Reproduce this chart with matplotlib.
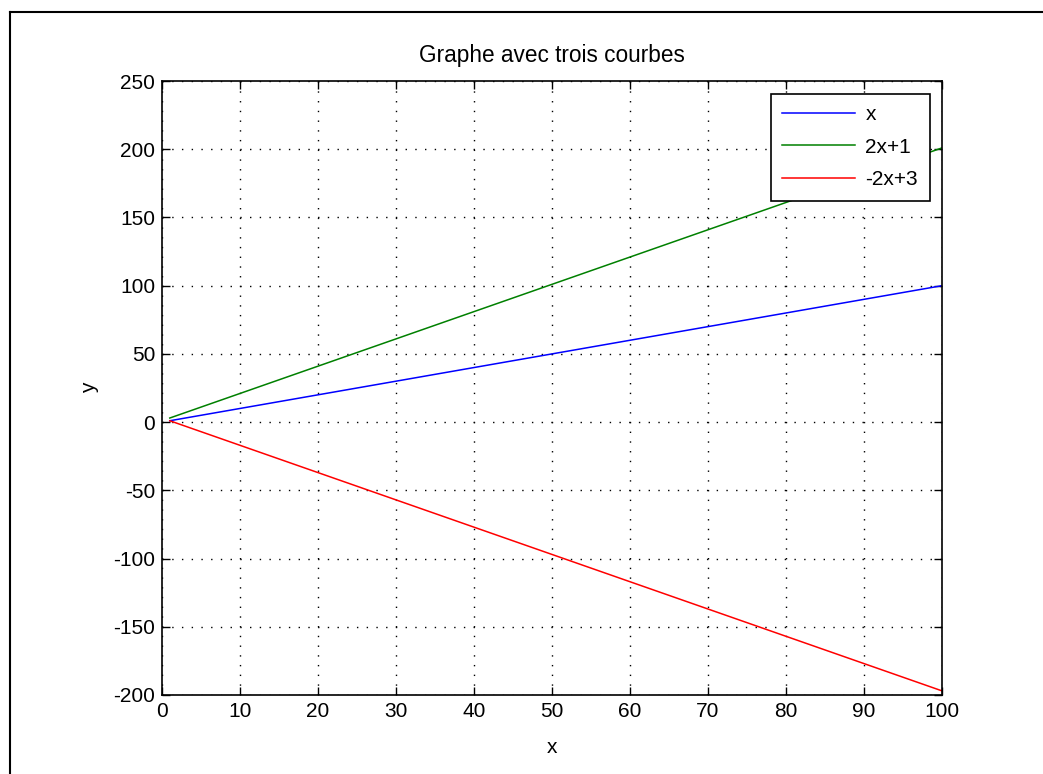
import matplotlib
matplotlib.use('Agg')
import matplotlib.pyplot as plt
from matplotlib.lines import Line2D

# endpoints of the three straight lines
x_vals = [1, 100]
y_x = [1, 100]
y_2x1 = [3, 201]
y_m2x3 = [1, -197]

labels = ['x', '2x+1', '-2x+3']
xticks = list(range(0, 101, 10))
yticks = list(range(-200, 251, 50))

plt.rcParams['font.family'] = ['Liberation Sans', 'DejaVu Sans']
plt.rcParams['font.size'] = 15
plt.rcParams['axes.unicode_minus'] = False

fig = plt.figure(figsize=(10.43, 7.74), dpi=100)
ax = fig.add_axes([0.1553, 0.1021, 0.7479, 0.7932])

ax.plot(x_vals, y_x, color=(0, 0, 1), linewidth=1.1, label=labels[0])
ax.plot(x_vals, y_2x1, color=(0, 0.5, 0), linewidth=1.1, label=labels[1])
ax.plot(x_vals, y_m2x3, color=(1, 0, 0), linewidth=1.1, label=labels[2])

ax.set_xlim(0, 100)
ax.set_ylim(-200, 250)
ax.set_xticks(xticks)
ax.set_yticks(yticks)
ax.grid(True, color='black', linestyle=(0, (1, 6)), linewidth=1.0)
ax.tick_params(direction='in', top=True, right=True, length=6, width=1, pad=5)
for s in ax.spines.values():
    s.set_linewidth(1.2)

ax.set_title('Graphe avec trois courbes', fontsize=16.3, pad=14)
ax.set_xlabel('x', labelpad=12)
ax.set_ylabel('y', labelpad=10)

leg = ax.legend(loc='upper right', fancybox=False, framealpha=1, edgecolor='black',
                handlelength=3.5, handletextpad=0.5, borderaxespad=0.6,
                labelspacing=0.65, borderpad=0.55)
leg.get_frame().set_linewidth(1.2)

# partial figure frame (left and top edges only)
fig.add_artist(Line2D([10 / 1043, 10 / 1043], [0, 1 - 12 / 774], transform=fig.transFigure,
                      color='black', linewidth=1.5))
fig.add_artist(Line2D([10 / 1043, 1], [1 - 12 / 774, 1 - 12 / 774], transform=fig.transFigure,
                      color='black', linewidth=1.5))

fig.savefig('out.png', dpi=100)
